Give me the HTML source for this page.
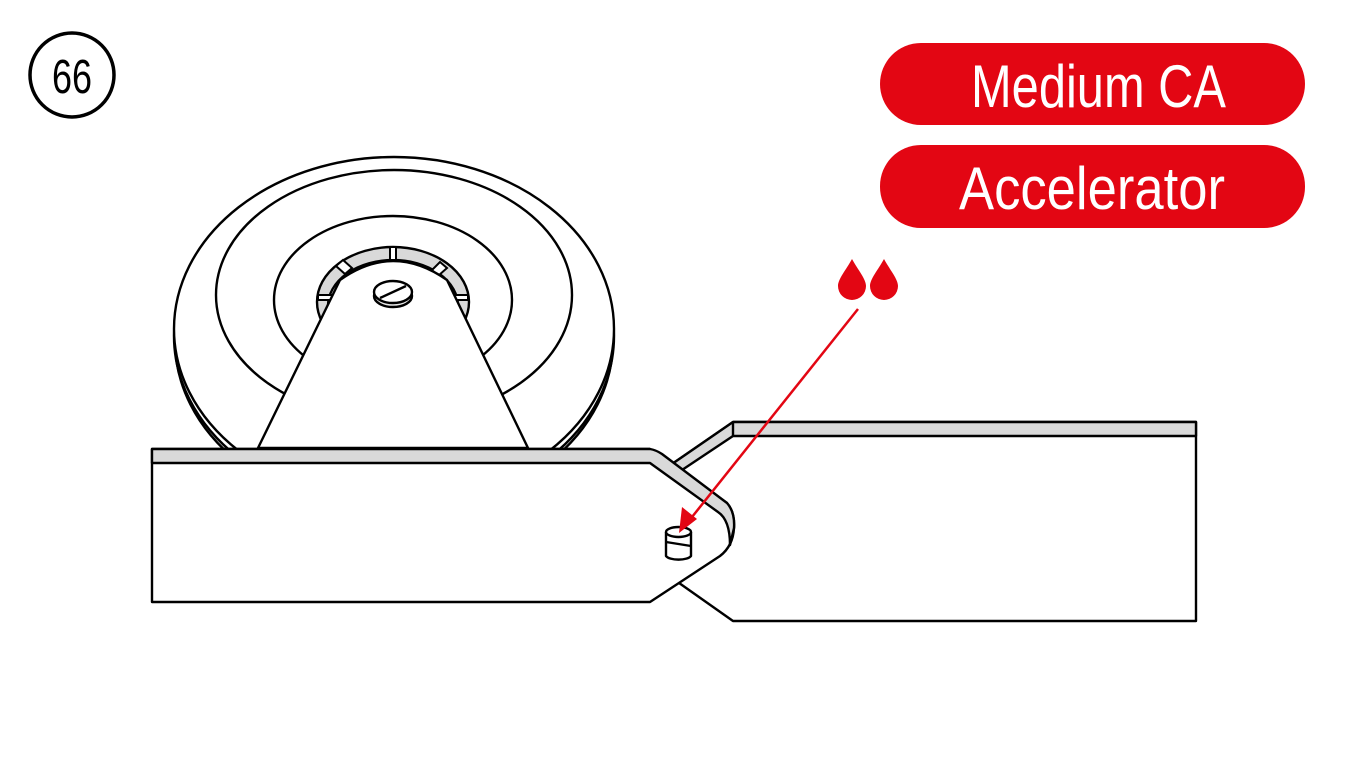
<!DOCTYPE html>
<html><head><meta charset="utf-8"><style>
html,body{margin:0;padding:0;background:#fff;}
svg{display:block;}
</style></head><body>
<svg width="1348" height="780" viewBox="0 0 1348 780" xmlns="http://www.w3.org/2000/svg">
<rect width="1348" height="780" fill="#fff"/>
<!-- step number -->
<circle cx="72" cy="75" r="42" fill="none" stroke="#000" stroke-width="3.5"/>
<text x="72" y="93" font-family="Liberation Sans, sans-serif" font-size="48" text-anchor="middle" textLength="40" lengthAdjust="spacingAndGlyphs">66</text>
<!-- badges -->
<rect x="880" y="43" width="425" height="82" rx="41" fill="#e30613"/>
<text x="971" y="107" font-family="Liberation Sans, sans-serif" font-size="60" fill="#fff" textLength="255" lengthAdjust="spacingAndGlyphs">Medium CA</text>
<rect x="880" y="145" width="425" height="83" rx="41" fill="#e30613"/>
<text x="959" y="209" font-family="Liberation Sans, sans-serif" font-size="60" fill="#fff" textLength="266" lengthAdjust="spacingAndGlyphs">Accelerator</text>
<!-- drops -->
<path d="M852 259 C846 270 838 279 838 286 A14 14 0 0 0 866 286 C866 279 858 270 852 259Z" fill="#e30613"/>
<path d="M884 259 C878 270 870 279 870 286 A14 14 0 0 0 898 286 C898 279 890 270 884 259Z" fill="#e30613"/>

<g fill="#fff" stroke="#000" stroke-width="2.4" stroke-linejoin="round">
<!-- right bar -->
<path d="M733 422 L1196 422 L1196 621 L733 621 L672 578 L672 464 Z"/>
<path d="M733 422 L1196 422 L1196 436 L733 436 L682 470 L672 464 Z" fill="#d9d9d9"/>
<line x1="733" y1="422" x2="733" y2="436"/>
<!-- wheel tread -->
<ellipse cx="394" cy="341" rx="219" ry="172" fill="#d9d9d9"/>
<ellipse cx="394" cy="336" rx="220" ry="172"/>
<ellipse cx="394" cy="329" rx="220" ry="172"/>
<ellipse cx="394" cy="295" rx="178" ry="125"/>
<ellipse cx="393" cy="300" rx="119" ry="84"/>
<ellipse cx="393" cy="302" rx="76" ry="55" fill="#d9d9d9"/>
<ellipse cx="393" cy="306" rx="65" ry="46"/>
</g>
<!-- slats in grey ring -->
<g stroke="#000" stroke-width="2" fill="#fff">
<rect x="390" y="247" width="6" height="13"/>
<path d="M336 266 L343 260 L352 268 L345 274 Z"/>
<path d="M440 262 L447 268 L438 276 L432 270 Z"/>
<rect x="318" y="295" width="15" height="5"/>
<rect x="453" y="295" width="15" height="5"/>
</g>
<g fill="#fff" stroke="#000" stroke-width="2.4" stroke-linejoin="round">
<!-- fork -->
<path d="M258 448 L340 280 Q393 242 447 280 L528 448 Z"/>
<ellipse cx="393" cy="296" rx="19" ry="11" fill="#e8e8e8"/>
<ellipse cx="393" cy="292" rx="19" ry="11"/>
<line x1="380" y1="298" x2="406" y2="286"/>
<!-- left bar -->
<path d="M152 449 L650 449 L727 503 Q735 512 734 528 Q733 546 720 556 L650 602 L152 602 Z"/>
<path d="M152 449 L650 449 Q656 450 662 454 L727 503 Q735 512 734 528 L730 545 Q730 520 718 512 L650 463 L152 463 Z" fill="#d9d9d9"/>
<!-- cylinder -->
<path d="M666 532 L666 556 A13 5 0 0 0 691 556 L691 532" />
<ellipse cx="678.5" cy="532" rx="12.5" ry="5"/>
<path d="M666 542 L691 546" fill="none"/>
</g>
<!-- arrow -->
<line x1="858" y1="309" x2="692" y2="517" stroke="#e30613" stroke-width="2.5"/>
<path d="M679 533 L682 507 L697 519 Z" fill="#e30613"/>
</svg>
</body></html>
